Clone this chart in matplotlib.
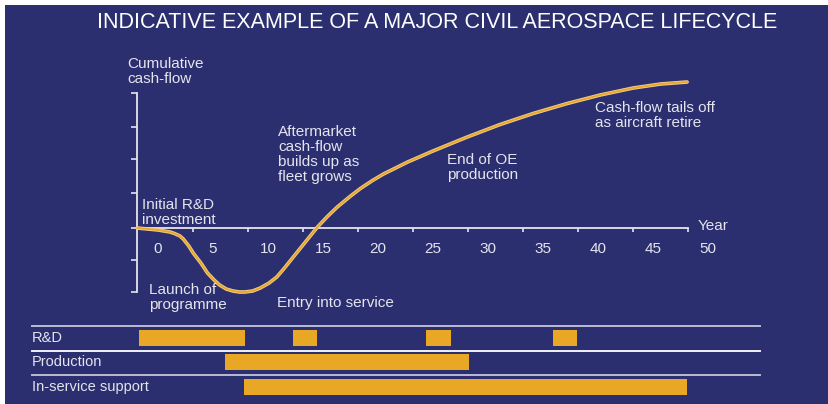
import matplotlib
matplotlib.use("Agg")
import matplotlib.pyplot as plt
from matplotlib.patches import Rectangle
from matplotlib import font_manager

# cumulative cash-flow curve (year, arbitrary units)
years = [-1.9, 0.0, 1.1, 1.5, 2.0, 2.3, 2.8, 3.2, 3.9, 4.5, 5.1, 5.6, 6.2, 6.8, 7.4, 7.9,
         8.6, 9.3, 10.1, 10.8, 11.5, 12.3, 13.4, 14.5, 15.4, 16.3, 17.4, 18.4,
         19.5, 20.5, 22.7, 25.0, 28.0, 31.1, 34.1, 37.2, 40.2, 43.2, 45.7, 48.1]
cashflow = [0.0, -0.2, -0.4, -0.55, -0.8, -1.1, -1.8, -2.5, -3.5, -4.5, -5.2, -5.7, -6.1, -6.3, -6.4, -6.4,
            -6.3, -6.0, -5.5, -4.9, -4.0, -2.9, -1.4, 0.1, 1.15, 2.1, 3.1, 3.95,
            4.75, 5.4, 6.6, 7.7, 9.05, 10.35, 11.45, 12.45, 13.3, 14.0, 14.4, 14.6]

year_labels = [0, 5, 10, 15, 20, 25, 30, 35, 40, 45, 50]
x_tick_marks = [3.2, 8.2, 13.2, 18.2, 23.2, 28.2, 33.2, 38.2, 43.2, 48.2]
y_tick_marks = [-6.4, -3.2, 0, 3.5, 6.9, 10.1, 13.5]

# activity bars (start year, end year)
phases = ["R&D", "Production", "In-service support"]
rd_spans = [(-1.7, 7.9), (12.3, 14.5), (24.4, 26.6), (35.9, 38.1)]
production_spans = [(6.1, 28.3)]
service_spans = [(7.8, 48.1)]

bg = "#2C2F6F"
fg = "#E4E4EE"
gold = "#E8A826"

def pick(names):
    for n in names:
        try:
            font_manager.findfont(n, fallback_to_default=False)
            return n
        except Exception:
            pass
    return "DejaVu Sans"

body_font = pick(["Liberation Sans", "Arimo", "DejaVu Sans"])
plt.rcParams["font.family"] = body_font

W, H = 829, 404
fig = plt.figure(figsize=(W / 100, H / 100), dpi=100, facecolor="white")
fig.patches.append(Rectangle((5 / W, 0), 1, 1 - 5 / H, transform=fig.transFigure,
                             facecolor=bg, edgecolor="none", zorder=-10))

# axes covering the whole figure, 11 px per year, 10 px per unit
ax = fig.add_axes([0, 0, 1, 1])
ax.set_xlim((0 - 158) / 11, (W - 158) / 11)
ax.set_ylim((228 - H) / 10, 228 / 10)
ax.patch.set_visible(False)

for s in ["top", "right"]:
    ax.spines[s].set_visible(False)
ax.spines["left"].set_position(("data", -1.9))
ax.spines["bottom"].set_position(("data", 0))
ax.spines["left"].set_bounds(y_tick_marks[0], y_tick_marks[-1])
ax.spines["bottom"].set_bounds(-1.9, 48.2)
for s in ["left", "bottom"]:
    ax.spines[s].set_color(fg)
    ax.spines[s].set_linewidth(1.3)

ax.set_xticks(x_tick_marks)
ax.set_xticklabels([])
ax.set_yticks(y_tick_marks)
ax.set_yticklabels([])
ax.tick_params(axis="x", colors=fg, length=3, width=1.2, direction="out")
ax.tick_params(axis="y", colors=fg, length=4, width=1.2, direction="out")

for yr in year_labels:
    ax.text(yr, -2.1, str(yr), color=fg, fontsize=11, ha="center", va="center")
ax.text(49.1, 0.2, "Year", color=fg, fontsize=11, ha="left", va="center")

ax.plot(years, cashflow, color="#F2CC8C", lw=2.6, solid_capstyle="round", zorder=3)
ax.plot(years, cashflow, color=gold, lw=1.3, solid_capstyle="round", zorder=4)

notes = [
    (-2.8, 17.1, "Cumulative\ncash-flow"),
    (-1.45, 3.0, "Initial R&D\ninvestment"),
    (-0.8, -5.5, "Launch of\nprogramme"),
    (10.8, -6.8, "Entry into service"),
    (10.9, 10.3, "Aftermarket\ncash-flow\nbuilds up as\nfleet grows"),
    (26.3, 7.5, "End of OE\nproduction"),
    (39.7, 12.7, "Cash-flow tails off\nas aircraft retire"),
]
for x, y, t in notes:
    ax.text(x, y, t, color=fg, fontsize=11, ha="left", va="top", linespacing=1.08)

# activity rows
row_y = [-11.0, -13.4, -15.9]
sep_y = [-9.8, -12.3, -14.7]
sep_col = ["#B8BBD0", "#F2F2F6", "#B8BBD0"]
for y, c in zip(sep_y, sep_col):
    ax.plot([-11.45, 54.7], [y, y], color=c, lw=1.4)
for y, name in zip(row_y, phases):
    ax.text(-11.45, y, name, color=fg, fontsize=10.5, ha="left", va="center")
for y, spans in zip(row_y, [rd_spans, production_spans, service_spans]):
    for a, b in spans:
        ax.barh(y, b - a, left=a, height=1.6, color=gold, edgecolor="none")

fig.text(437 / W, 1 - 22 / H, "INDICATIVE EXAMPLE OF A MAJOR CIVIL AEROSPACE LIFECYCLE",
         color="white", fontsize=15.5, ha="center", va="center")

fig.savefig("out.png", dpi=100, facecolor="white")
